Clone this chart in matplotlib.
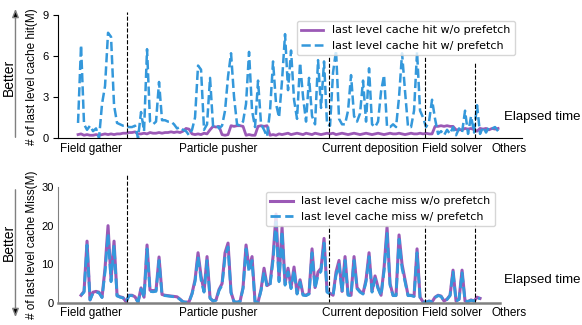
import numpy as np
import matplotlib.pyplot as plt

# last level cache hits (M), one sample per time step
hit_wo = [0.25, 0.3, 0.2, 0.25, 0.2, 0.2, 0.25, 0.2, 0.25, 0.3,
          0.25, 0.3, 0.25, 0.3, 0.3, 0.35, 0.35, 0.4, 0.4, 0.45,
          0.3, 0.3, 0.35, 0.3, 0.4, 0.35, 0.35, 0.4, 0.35, 0.4,
          0.4, 0.45, 0.4, 0.45, 0.4, 0.5, 0.7, 0.65, 0.3, 0.25,
          0.3, 0.25, 0.35, 0.3, 0.6, 0.85, 0.8, 0.85, 0.25, 0.2,
          0.25, 0.9, 0.85, 0.9, 0.9, 0.85, 0.2, 0.25, 0.2, 0.2,
          0.85, 0.9, 0.85, 0.9, 0.2, 0.25, 0.2, 0.3, 0.25, 0.3,
          0.35, 0.25, 0.3, 0.35, 0.3, 0.25, 0.35, 0.3, 0.25, 0.35,
          0.3, 0.25, 0.3, 0.35, 0.3, 0.35, 0.25, 0.3, 0.35, 0.3,
          0.25, 0.3, 0.35, 0.3, 0.25, 0.3, 0.35, 0.3, 0.25, 0.3,
          0.35, 0.3, 0.25, 0.3, 0.35, 0.3, 0.3, 0.35, 0.3, 0.25,
          0.3, 0.35, 0.3, 0.3, 0.35, 0.3, 0.35, 0.3, 0.3, 0.85,
          0.85, 0.9, 0.85, 0.9, 0.85, 0.85, 0.6, 0.6, 0.6, 0.7,
          0.65, 0.7, 0.6, 0.5, 0.7, 0.65, 0.7, 0.6, 0.7, 0.65, 0.7]
hit_w = [1.1, 6.8, 1.0, 0.6, 0.9, 0.5, 0.7, 0.0, 2.5, 3.8,
         7.7, 7.4, 2.4, 1.1, 1.0, 0.9, 0.9, 0.8, 0.8, 0.9,
         0.0, 1.9, 0.5, 6.5, 1.2, 1.0, 1.2, 4.1, 1.3, 1.3,
         1.2, 1.2, 1.0, 0.7, 0.8, 0.6, 0.5, 0.2, 0.6, 1.5,
         5.3, 5.0, 0.6, 1.0, 4.4, 0.9, 1.0, 0.7, 0.9, 2.0,
         4.5, 6.2, 3.0, 1.0, 0.9, 1.2, 2.5, 6.3, 2.0, 0.8,
         4.2, 1.0, 0.6, 0.1, 2.0, 5.6, 2.5, 1.5, 4.2, 7.6,
         3.5, 6.4, 2.8, 1.4, 5.5, 3.0, 1.2, 4.4, 1.6, 1.0,
         5.7, 2.2, 5.6, 1.0, 0.9, 4.8, 6.4, 1.4, 1.0, 1.0,
         2.0, 4.6, 1.6, 1.2, 1.8, 4.2, 1.2, 5.1, 1.0, 0.8,
         1.2, 3.4, 4.6, 0.8, 0.8, 1.0, 0.8, 3.0, 6.2, 3.4,
         0.8, 0.8, 2.0, 6.3, 2.0, 1.5, 0.8, 1.2, 2.8, 1.4,
         0.3, 0.5, 0.2, 0.6, 0.3, 0.8, 0.2, 0.7, 0.4, 2.0,
         0.3, 1.6, 0.4, 2.4, 0.3, 0.8, 0.4, 0.8, 0.7, 0.8, 0.5]

# last level cache misses (M), starting one step later
miss_start = 1
miss_wo = [2.0, 3.0, 16.0, 0.8, 2.8, 3.0, 2.8, 1.5, 9.0, 20.0,
           6.0, 16.0, 2.0, 1.6, 1.4, 0.3, 2.0, 2.0, 1.6, 0.2,
           3.9, 1.5, 15.0, 3.3, 3.2, 3.3, 11.9, 2.2, 2.0, 1.9,
           1.8, 1.7, 1.6, 1.0, 0.3, 0.2, 0.3, 2.5, 6.0, 13.0,
           7.0, 3.0, 12.0, 1.3, 0.5, 0.8, 3.5, 5.0, 13.0, 15.5,
           2.8, 0.3, 0.2, 0.4, 4.0, 15.0, 9.0, 12.0, 0.3, 0.2,
           3.5, 9.0, 4.5, 5.0, 12.0, 23.0, 6.0, 19.6, 5.0, 9.0,
           4.0, 9.3, 2.5, 6.0, 2.2, 2.0, 2.5, 14.0, 4.0, 8.0,
           9.0, 16.7, 3.0, 2.5, 2.0, 8.0, 11.0, 3.0, 12.0, 2.2,
           2.0, 12.0, 4.0, 3.0, 2.5, 6.0, 13.0, 3.0, 7.0, 4.0,
           2.0, 9.0, 19.6, 5.0, 2.0, 2.0, 17.6, 10.0, 6.0, 2.0,
           2.0, 1.8, 14.0, 1.5, 0.3, 0.2, 0.5, 0.3, 1.5, 2.0,
           1.8, 0.5, 1.0, 2.0, 8.5, 0.5, 1.0, 8.5, 0.5, 0.4,
           0.8, 0.5, 1.5, 1.2]
miss_w = [2.0, 2.8, 15.0, 0.8, 2.6, 2.8, 2.6, 1.4, 8.0, 18.0,
          5.5, 15.0, 1.8, 1.5, 1.3, 0.3, 1.9, 1.9, 1.5, 0.2,
          3.6, 1.4, 14.0, 3.0, 2.9, 3.0, 11.0, 2.0, 1.9, 1.8,
          1.7, 1.6, 1.5, 0.9, 0.3, 0.2, 0.3, 2.3, 5.5, 12.0,
          6.0, 2.8, 11.0, 1.2, 0.5, 0.7, 3.2, 4.6, 12.0, 14.5,
          2.6, 0.3, 0.2, 0.4, 3.7, 14.0, 8.0, 11.0, 0.3, 0.2,
          3.2, 8.0, 4.2, 4.6, 11.0, 21.0, 5.5, 18.5, 4.6, 8.0,
          3.7, 8.5, 2.3, 5.4, 2.0, 1.9, 2.3, 13.0, 3.7, 7.2,
          8.2, 15.5, 2.8, 2.3, 1.9, 7.2, 10.0, 2.8, 11.0, 2.0,
          1.9, 11.0, 3.7, 2.8, 2.3, 5.5, 12.0, 2.8, 6.3, 3.7,
          1.9, 8.2, 18.0, 4.6, 1.9, 1.9, 16.5, 9.0, 5.5, 1.9,
          1.9, 1.7, 13.0, 1.4, 0.3, 0.2, 0.5, 0.3, 1.4, 1.9,
          1.7, 0.5, 0.9, 1.9, 8.0, 0.5, 0.9, 7.8, 0.5, 0.4,
          0.7, 0.5, 1.4, 1.1]

phases = ["Field gather", "Particle pusher", "Current deposition", "Field solver", "Others"]
phase_centers = [4.3, 46.8, 97.2, 124.8, 143.8]
phase_bounds = [16.3, 83.7, 115.7, 132.3]
hit_bound_tops = [9.2, 5.9, 5.9, 5.5]
miss_bound_tops = [33, 20.2, 20.2, 20.2]

purple = "#9b59b6"
blue = "#3498db"

plt.rcParams["font.family"] = ["Liberation Sans", "DejaVu Sans"]

fig = plt.figure(figsize=(5.82, 3.25), dpi=100)
ax_hit = fig.add_axes([0.0997, 0.5754, 0.7973, 0.3785])
ax_miss = fig.add_axes([0.0997, 0.0677, 0.7595, 0.3569])

# top: hits
t_hit = np.arange(len(hit_w))
ax_hit.plot(t_hit, hit_wo, color=purple, lw=2, label="last level cache hit w/o prefetch")
ax_hit.plot(t_hit, hit_w, color=blue, lw=1.8, ls="--", label="last level cache hit w/ prefetch")
ax_hit.vlines(phase_bounds, 0, hit_bound_tops, colors="black", linestyles="--", lw=0.8, clip_on=False)
ax_hit.set_xlim(-6.67, 148)
ax_hit.set_ylim(0, 9)
ax_hit.set_yticks([0, 3, 6, 9])
ax_hit.tick_params(axis="y", length=3.5, pad=3)
ax_hit.set_ylabel("# of last level cache hit(M)", fontsize=8.5)
ax_hit.yaxis.set_label_coords(-0.043, 0.5)
ax_hit.legend(loc="upper right", bbox_to_anchor=(0.985, 0.951), borderaxespad=0,
              prop={"family": "DejaVu Sans", "size": 8})

# bottom: misses
t_miss = np.arange(len(miss_w)) + miss_start
ax_miss.plot(t_miss, miss_wo, color=purple, lw=2.2, label="last level cache miss w/o prefetch")
ax_miss.plot(t_miss, miss_w, color=blue, lw=2, ls="--", label="last level cache miss w/ prefetch")
ax_miss.vlines(phase_bounds, 0, miss_bound_tops, colors="black", linestyles="--", lw=0.8, clip_on=False)
ax_miss.set_xlim(-6.67, 140.67)
ax_miss.set_ylim(0, 30)
ax_miss.set_yticks([0, 10, 20, 30])
ax_miss.tick_params(axis="y", length=0, pad=3)
ax_miss.set_ylabel("# of last level cache Miss(M)", fontsize=8.5)
ax_miss.yaxis.set_label_coords(-0.045, 0.5)
ax_miss.legend(loc="upper right", bbox_to_anchor=(0.989, 0.957), borderaxespad=0,
               prop={"family": "DejaVu Sans", "size": 8})

for ax in (ax_hit, ax_miss):
    ax.spines["top"].set_visible(False)
    ax.spines["right"].set_visible(False)
    ax.set_xticks([])
    ax.tick_params(axis="y", labelsize=8)
    for name, c in zip(phases, phase_centers):
        ax.text(c, -0.088, name, transform=ax.get_xaxis_transform(),
                ha="center", va="center", fontsize=8.5, clip_on=False)

for side in ("left", "bottom"):
    ax_miss.spines[side].set_color("#808080")
ax_miss.spines["bottom"].set_linewidth(1.8)

# "Better" direction arrows and elapsed-time labels
arrow = dict(arrowstyle="-|>,head_length=0.5,head_width=0.2", ec="gray", fc="black", lw=1)
ax_hit.annotate("", xy=(0.0266, 0.9815), xytext=(0.0266, 0.569),
                xycoords="figure fraction", textcoords="figure fraction",
                arrowprops=arrow, annotation_clip=False)
ax_miss.annotate("", xy=(0.0266, 0.0154), xytext=(0.0266, 0.4246),
                 xycoords="figure fraction", textcoords="figure fraction",
                 arrowprops=arrow, annotation_clip=False)
fig.text(0.0146, 0.763, "Better", rotation=90, ha="center", va="center", fontsize=10)
fig.text(0.0146, 0.2554, "Better", rotation=90, ha="center", va="center", fontsize=10)
fig.text(0.866, 0.64, "Elapsed time", ha="left", va="center", fontsize=9.5)
fig.text(0.866, 0.14, "Elapsed time", ha="left", va="center", fontsize=9.5)

fig.savefig("out.png", dpi=100)
